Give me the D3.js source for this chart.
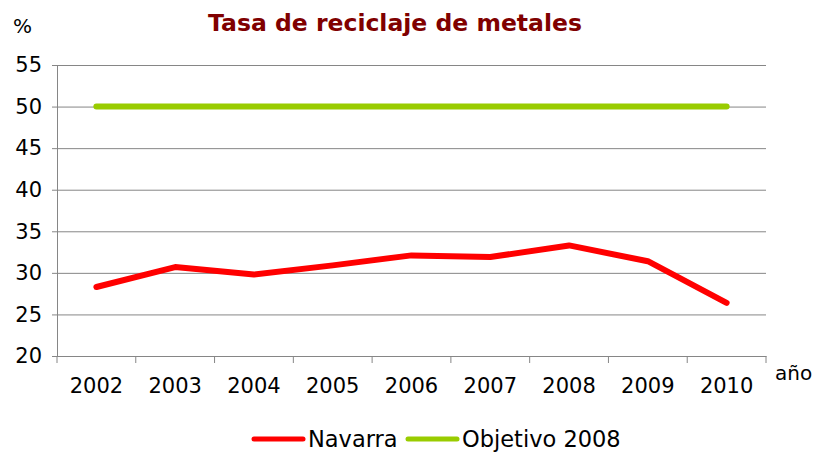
<!DOCTYPE html>
<html>
<head>
<meta charset="utf-8">
<script src="https://cdn.jsdelivr.net/npm/d3@7"></script>
<style>
	body { margin: 0; background: #fff; }
	text { font-family: "DejaVu Sans", Verdana, sans-serif; }
</style>
</head>
<body>
<div id="chart-area"></div>
<script>
// data
const years = ["2002", "2003", "2004", "2005", "2006", "2007", "2008", "2009", "2010"];
const navarra = [28.3, 30.7, 29.8, 30.9, 32.1, 31.9, 33.3, 31.4, 26.4];
const objetivo = [50, 50, 50, 50, 50, 50, 50, 50, 50];
const yTicks = [20, 25, 30, 35, 40, 45, 50, 55];

const margin = {top: 65, right: 52, bottom: 98, left: 57},
	W = 818, H = 454,
	width = W - margin.left - margin.right,
	height = H - margin.top - margin.bottom;

let svg = d3.select("#chart-area").append("svg")
	.attr("width", W)
	.attr("height", H);

let g = svg.append("g")
	.attr("transform", "translate(" + margin.left + "," + margin.top + ")");

// scales
let x = d3.scaleBand()
	.domain(years)
	.range([0, width]);

let y = d3.scaleLinear()
	.domain([20, 55])
	.range([height, 0]);

// gridlines
g.append("g")
	.attr("class", "grid")
	.call(d3.axisLeft(y).tickValues(yTicks).tickSize(-width).tickFormat(""))
	.call(a => a.select(".domain").remove())
	.selectAll("line")
	.attr("stroke", "#868686");

// y axis
g.append("g")
	.call(d3.axisLeft(y).tickValues(yTicks).tickSize(5).tickPadding(10))
	.call(a => a.select(".domain").attr("stroke", "#868686"))
	.call(a => a.selectAll("line").attr("stroke", "#868686"))
	.selectAll("text")
	.attr("font-size", "21px")
	.attr("font-family", "DejaVu Sans")
	.attr("fill", "#000");

// x axis (labels centred, ticks on category boundaries)
let xAxis = g.append("g")
	.attr("transform", "translate(0," + height + ")")
	.call(d3.axisBottom(x).tickSize(0).tickPadding(22).tickSizeOuter(0))
	.call(a => a.select(".domain").attr("stroke", "#868686"));

xAxis.selectAll("text")
	.attr("font-size", "21px")
	.attr("font-family", "DejaVu Sans")
	.attr("fill", "#000");

xAxis.selectAll(".bound")
	.data(years.map(d => x(d)).concat([width]))
	.enter()
	.append("line")
	.attr("class", "bound")
	.attr("x1", d => d).attr("x2", d => d)
	.attr("y1", 0).attr("y2", 7)
	.attr("stroke", "#868686");

// lines
let line = d3.line()
	.x((d, i) => x(years[i]) + x.bandwidth() / 2)
	.y(d => y(d));

g.append("path")
	.datum(objetivo)
	.attr("d", line)
	.attr("fill", "none")
	.attr("stroke", "#99CC00")
	.attr("stroke-width", 6)
	.attr("stroke-linecap", "round");

g.append("path")
	.datum(navarra)
	.attr("d", line)
	.attr("fill", "none")
	.attr("stroke", "#FF0000")
	.attr("stroke-width", 6)
	.attr("stroke-linecap", "round")
	.attr("stroke-linejoin", "round");

// title and axis labels
svg.append("text")
	.attr("x", 395)
	.attr("y", 31)
	.attr("text-anchor", "middle")
	.attr("font-size", "23.5px")
	.attr("font-weight", "bold")
	.attr("fill", "#800000")
	.text("Tasa de reciclaje de metales");

svg.append("text")
	.attr("x", 13)
	.attr("y", 33)
	.attr("font-size", "20px")
	.text("%");

svg.append("text")
	.attr("x", 775)
	.attr("y", 380)
	.attr("font-size", "20px")
	.text("año");

// legend
const legendItems = [
	{name: "Navarra", color: "#FF0000", x: 252},
	{name: "Objetivo 2008", color: "#99CC00", x: 406}
];

let legend = svg.selectAll(".legend")
	.data(legendItems)
	.enter()
	.append("g")
	.attr("class", "legend")
	.attr("transform", d => "translate(" + d.x + ",439)");

legend.append("line")
	.attr("x1", 2).attr("x2", 51)
	.attr("stroke", d => d.color)
	.attr("stroke-width", 5)
	.attr("stroke-linecap", "round");

legend.append("text")
	.attr("x", 56)
	.attr("y", 8)
	.attr("font-size", "22.5px")
	.text(d => d.name);
</script>
</body>
</html>
